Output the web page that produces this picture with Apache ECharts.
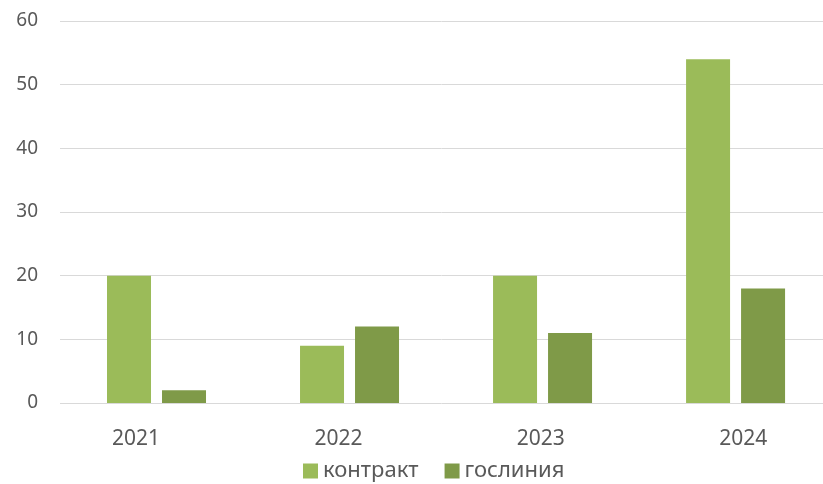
<!DOCTYPE html>
<html>
<head>
<meta charset="utf-8">
<script src="https://cdn.jsdelivr.net/npm/echarts@6/dist/echarts.min.js"></script>
<style>
  html, body { margin: 0; padding: 0; background: #fff; }
  #chart { width: 823px; height: 484px; }
</style>
</head>
<body>
<div id="chart"></div>
<script>
// данные графика
var years = ['2021', '2022', '2023', '2024']
var kontrakt = [20, 9, 20, 54]
var goslinia = [2, 12, 11, 18]
var seriesNames = ['контракт', 'гослиния']

var chart = echarts.init(document.getElementById('chart'))
var labelFont = '"Noto Sans", "Open Sans", sans-serif'

// столбцы стоят на числовой оси x: индекс года -> значение
function toPairs(arr) {
    return arr.map(function (v, i) { return [i, v] })
}

chart.setOption({
    animation: false,
    textStyle: { fontFamily: labelFont },
    legend: {
        data: seriesNames,
        left: 298,
        top: 455,
        itemWidth: 15,
        itemHeight: 15,
        itemGap: 26,
        icon: 'rect',
        textStyle: { color: '#595959', fontSize: 22, fontFamily: labelFont }
    },
    grid: [
        { left: 60, top: 21, right: 0, bottom: 81 },
        // вторая сетка только для подписей лет (они сдвинуты относительно столбцов)
        { left: 136, top: 21, right: 0, bottom: 81 }
    ],
    xAxis: [{
        type: 'value',
        gridIndex: 0,
        min: -0.5,
        max: 3.453,
        show: false
    }, {
        type: 'value',
        gridIndex: 1,
        min: 0,
        max: 3.379,
        interval: 1,
        axisLine: { show: false },
        axisTick: { show: false },
        splitLine: { show: false },
        axisLabel: {
            color: '#595959', fontSize: 21, margin: 26, fontFamily: labelFont,
            formatter: function (v) {
                return years[v] !== undefined ? years[v] : ''
            }
        }
    }],
    yAxis: [{
        type: 'value',
        gridIndex: 0,
        min: 0,
        max: 60,
        interval: 10,
        axisLine: { show: false },
        axisTick: { show: false },
        axisLabel: { color: '#595959', fontSize: 19, margin: 22, fontFamily: labelFont },
        splitLine: { lineStyle: { color: '#d9d9d9', width: 1 } }
    }, {
        type: 'value',
        gridIndex: 1,
        min: 0,
        max: 60,
        show: false
    }],
    series: [{
        name: seriesNames[0],
        type: 'bar',
        data: toPairs(kontrakt),
        barWidth: 44,
        barGap: '25%',
        itemStyle: { color: '#9bbb59' }
    }, {
        name: seriesNames[1],
        type: 'bar',
        data: toPairs(goslinia),
        barWidth: 44,
        itemStyle: { color: '#7f9a48' }
    }]
})
</script>
</body>
</html>
